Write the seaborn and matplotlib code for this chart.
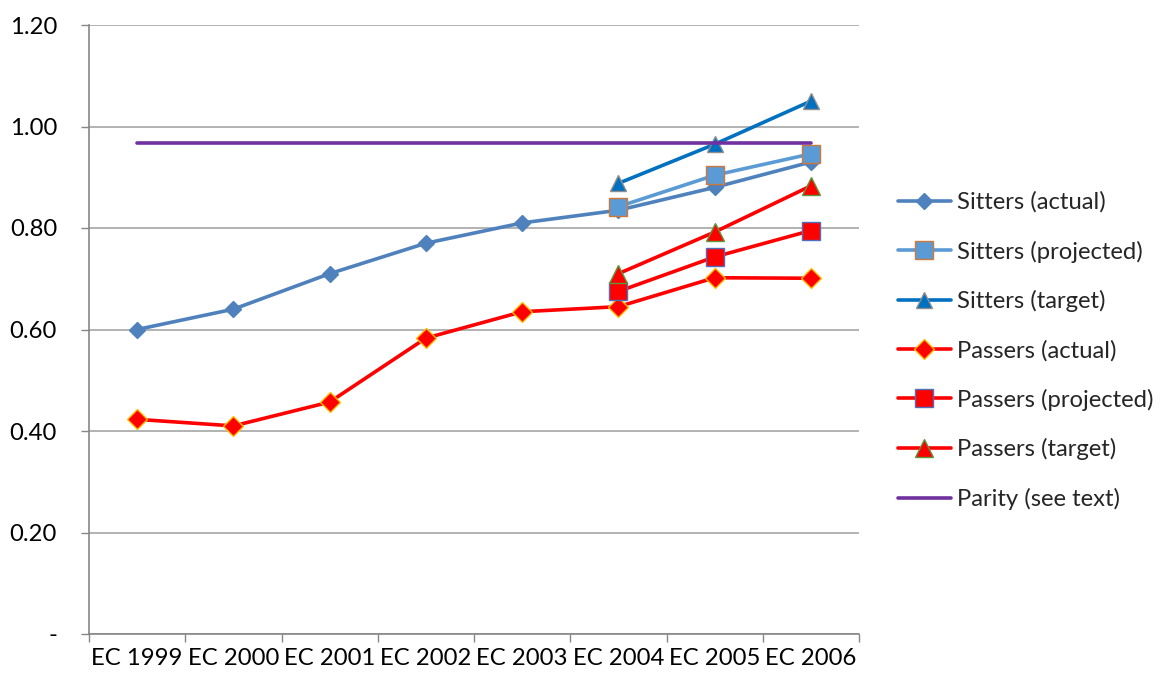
import numpy as np
import pandas as pd
import matplotlib
matplotlib.use("Agg")
import matplotlib.pyplot as plt
import seaborn as sns

# Category labels and series values
years = ["EC 1999", "EC 2000", "EC 2001", "EC 2002", "EC 2003", "EC 2004", "EC 2005", "EC 2006"]
sitters_actual = [0.60, 0.64, 0.71, 0.77, 0.81, 0.835, 0.88, 0.93]
sitters_projected = [None, None, None, None, None, 0.842, 0.904, 0.946]
sitters_target = [None, None, None, None, None, 0.888, 0.965, 1.050]
passers_actual = [0.423, 0.410, 0.457, 0.583, 0.635, 0.645, 0.702, 0.701]
passers_projected = [None, None, None, None, None, 0.675, 0.743, 0.795]
passers_target = [None, None, None, None, None, 0.710, 0.792, 0.883]
parity = [0.968] * 8

y_ticks = [0.0, 0.2, 0.4, 0.6, 0.8, 1.0, 1.2]
y_tick_labels = ["-", "0.20", "0.40", "0.60", "0.80", "1.00", "1.20"]

sns.set_theme(style="white")
plt.rcParams["font.family"] = ["Lato", "DejaVu Sans"]
FS = 17.2

fig = plt.figure(figsize=(11.65, 6.8), dpi=100)
ax = fig.add_axes([89 / 1165, 46 / 680, 770 / 1165, 609 / 680])

series = [
    ("Sitters (actual)", sitters_actual, dict(color="#4F81BD", marker="D", ms=8, mfc="#4F81BD", mec="#4F81BD")),
    ("Sitters (projected)", sitters_projected, dict(color="#5B9BD5", marker="s", ms=13, mfc="#5B9BD5", mec="#D0783A")),
    ("Sitters (target)", sitters_target, dict(color="#0070C0", marker="^", ms=11, mfc="#0070C0", mec="#8E8E8E")),
    ("Passers (actual)", passers_actual, dict(color="#FF0000", marker="D", ms=10.5, mfc="#FF0000", mec="#FFC000")),
    ("Passers (projected)", passers_projected, dict(color="#FF0000", marker="s", ms=13, mfc="#FF0000", mec="#4F6FBD")),
    ("Passers (target)", passers_target, dict(color="#FF0000", marker="^", ms=13, mfc="#FF0000", mec="#5A9A3A")),
    ("Parity (see text)", parity, dict(color="#7030A0", marker=None, ms=0, mfc="none", mec="none")),
]

xpos = np.arange(len(years))
handles = []
for label, vals, st in series:
    df = pd.DataFrame({"x": xpos, "y": pd.to_numeric(pd.Series(vals), errors="coerce")}).dropna()
    sns.lineplot(data=df, x="x", y="y", ax=ax, color=st["color"], linewidth=2.6,
                 marker=st["marker"], markersize=st["ms"], markerfacecolor=st["mfc"],
                 markeredgecolor=st["mec"], markeredgewidth=1.0, label=label, legend=False)
    handles.append(ax.lines[-1])

ax.set_xlim(-0.5, len(years) - 0.5)
ax.set_ylim(0, 1.2)
ax.set_xlabel("")
ax.set_ylabel("")

# Category boundaries carry the tick marks, labels sit at the centres
ax.set_xticks(np.arange(-0.5, len(years)), labels=[""] * (len(years) + 1))
ax.set_xticks(xpos, labels=years, minor=True)
ax.tick_params(axis="x", which="major", length=6, width=1, color="#868686", direction="out", bottom=True)
ax.tick_params(axis="x", which="minor", length=0, labelsize=FS, pad=10, colors="#000000")
ax.set_yticks(y_ticks, labels=y_tick_labels)
ax.tick_params(axis="y", length=6, width=1, color="#868686", direction="out", left=True, labelsize=FS, pad=17)
for t in ax.get_yticklabels():
    t.set_color("#000000")

ax.grid(axis="y", color="#A6A6A6", linewidth=1.2)
ax.grid(axis="x", visible=False)
for side in ["top", "right"]:
    ax.spines[side].set_visible(False)
for side in ["left", "bottom"]:
    ax.spines[side].set_color("#868686")
    ax.spines[side].set_linewidth(1.2)

fig.legend(handles=handles, labels=[s[0] for s in series], loc="upper left",
           bbox_to_anchor=(888 / 1165, 1 - 182 / 680), frameon=False, fontsize=FS,
           handlelength=2.25, labelspacing=1.15, handletextpad=0.25, borderaxespad=0)

fig.savefig("out.png", dpi=100)
